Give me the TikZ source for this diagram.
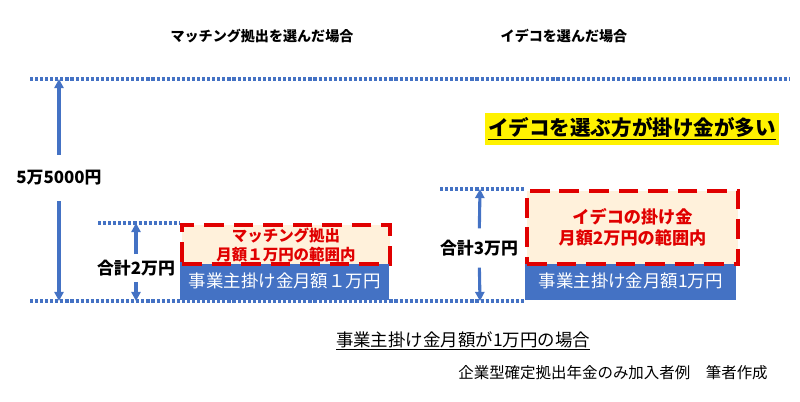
\documentclass[tikz,border=0pt]{standalone}
\usepackage{fontspec}
\setmainfont{Noto Sans CJK JP}
\usetikzlibrary{arrows.meta}
\definecolor{ofblue}{HTML}{4472C4}
\definecolor{ofred}{HTML}{E00000}
\definecolor{peach}{HTML}{FFF1DB}

\begin{document}
\begin{tikzpicture}[x=0.025cm, y=-0.025cm, >={Triangle[length=6.5pt, width=6.5pt]}]
    \useasboundingbox (0,0) rectangle (800,401);
    \tikzset{
        level/.style={ofblue, line width=2.2pt, dash pattern=on 2.2pt off 1.4pt},
        span/.style={->, ofblue, line width=2.2pt},
        total/.style={font=\bfseries\fontsize{12}{14}\selectfont, inner xsep=1pt},
        planbox/.style={draw=ofred, fill=peach, line width=2.8pt, dash pattern=on 14pt off 7pt,
            text=ofred, align=center, inner sep=0pt, anchor=north west},
        basebox/.style={fill=ofblue, text=white, inner sep=0pt, anchor=north west,
            font=\fontsize{12.4}{15}\selectfont},
        heading/.style={font=\bfseries\fontsize{10}{12}\selectfont}
    }

    % Levels
    \coordinate (top0) at (30,79);
    \coordinate (top1) at (790,79);
    \coordinate (low0) at (30,301);
    \coordinate (low1) at (525,301);
    \coordinate (lv2a) at (98,223);
    \coordinate (lv2b) at (180,223);
    \coordinate (lv3a) at (440,189);
    \coordinate (lv3b) at (525,189);
    \draw[level] (top0) -- (top1);
    \draw[level] (low0) -- (low1);
    \draw[level] (lv2a) -- (lv2b);
    \draw[level] (lv3a) -- (lv3b);

    % Headings
    \node[heading] (h1) at (262,36) {マッチング拠出を選んだ場合};
    \node[heading] (h2) at (564,36) {イデコを選んだ場合};

    % Left case
    \node[basebox, minimum width=5.225cm, minimum height=0.95cm] (base1) at (180,262) {事業主掛け金月額１万円};
    \node[planbox, minimum width=5.2cm, minimum height=0.975cm,
        font=\bfseries\fontsize{11}{13.5}\selectfont] (plan1) at (180,223) {マッチング拠出\\月額１万円の範囲内};

    % Right case
    \node[basebox, minimum width=5.275cm, minimum height=0.95cm] (base2) at (525,262) {事業主掛け金月額1万円};
    \node[planbox, minimum width=5.275cm, minimum height=1.825cm,
        font=\bfseries\fontsize{12.2}{15}\selectfont] (plan2) at (525,189) {イデコの掛け金\\月額2万円の範囲内};

    % Spans
    \coordinate (s1t) at (59,79);
    \coordinate (s1b) at (59,301);
    \node[total, inner ysep=11pt] (sum1) at (59,178) {5万5000円};
    \draw[span] (sum1) -- (s1t);
    \draw[span] (sum1) -- (s1b);

    \coordinate (s2t) at (136,223);
    \coordinate (s2b) at (136,301);
    \node[total, inner ysep=4pt] (sum2) at (136,268) {合計2万円};
    \draw[span] (sum2) -- (s2t);
    \draw[span] (sum2) -- (s2b);

    \coordinate (s3t) at (480,189);
    \coordinate (s3b) at (480,301);
    \node[total, inner ysep=8pt] (sum3) at (479,248) {合計3万円};
    \draw[span] (sum3) -- (s3t);
    \draw[span] (sum3) -- (s3b);

    % Message
    \node[fill=yellow, inner xsep=2pt, inner ysep=3pt,
        font=\bfseries\fontsize{14.6}{17}\selectfont] (msg) at (632,129) {\underline{イデコを選ぶ方が掛け金が多い}};

    % Notes
    \node[font=\fontsize{12.4}{15}\selectfont] (cap) at (463,341) {\underline{事業主掛け金月額が1万円の場合}};
    \node[font=\fontsize{11}{13}\selectfont] (src) at (613,373) {企業型確定拠出年金のみ加入者例　筆者作成};
\end{tikzpicture}
\end{document}
